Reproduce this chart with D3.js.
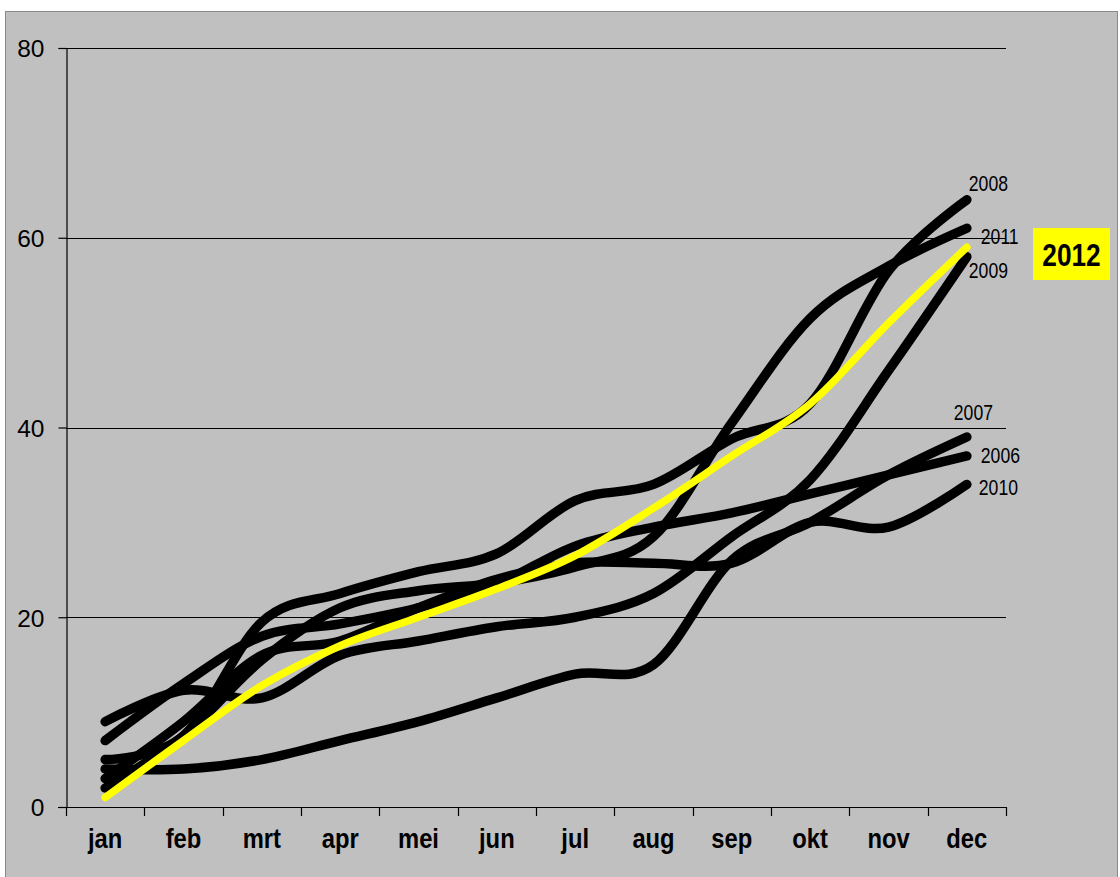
<!DOCTYPE html>
<html><head><meta charset="utf-8">
<script src="https://cdn.jsdelivr.net/npm/d3@7"></script>
<style>body{margin:0;background:#fff}</style>
</head><body>
<svg id="chart" width="1120" height="877"></svg>
<script>
// ---- data ----
const months = ["jan","feb","mrt","apr","mei","jun","jul","aug","sep","okt","nov","dec"];
const yTicks = [0, 20, 40, 60, 80];
const v2006 = [7, 13, 18, 19.3, 21, 23.5, 27.5, 29.5, 31, 33, 35, 37];
const v2007 = [4, 4, 5, 7, 9, 11.5, 14, 15, 26, 30, 35, 39];
const v2008 = [5, 7.5, 19.5, 22.5, 24.8, 26.7, 32.3, 34, 38.8, 42.5, 56.5, 64];
const v2009 = [9, 12.3, 11.5, 16, 17.5, 19, 20, 22.5, 28.5, 34.5, 46, 58];
const v2010 = [3, 9, 16, 17.5, 21, 24, 25.7, 25.7, 25.7, 30, 29.5, 34];
const v2011 = [2, 7.5, 15.5, 21, 22.8, 23.6, 25.3, 28.5, 40.5, 51.5, 57, 61];
const v2012 = [1, 7, 12.8, 17, 20, 23, 26.5, 31.5, 37, 42.5, 51, 59];
const years = ["2006","2007","2008","2009","2010","2011"];
const highlightYear = "2012";

const blackSeries = [v2006, v2007, v2008, v2009, v2010, v2011];

// label offsets from each series' last point (layout, not data)
const labelOffset = {
  "2006": [14, 7], "2007": [-13, -17], "2008": [2, -9],
  "2009": [2, 21], "2010": [12, 11], "2011": [14, 16]
};

// ---- layout ----
const svg = d3.select("#chart");
const mLeft = 66, mRight = 1006, mTop = 48, mBottom = 807;

svg.append("rect").attr("x", 5.5).attr("y", 11.5).attr("width", 1112).attr("height", 866)
  .attr("fill", "#c0c0c0").attr("stroke", "#8a8a8a").attr("stroke-width", 1);

const x = d3.scaleBand().domain(months).range([mLeft, mRight]).paddingInner(0).paddingOuter(0);
const y = d3.scaleLinear().domain([0, 80]).range([mBottom, mTop]);
const cx = m => x(m) + x.bandwidth() / 2;

// gridlines
svg.append("g").selectAll("line").data(yTicks.filter(t => t > 0)).join("line")
  .attr("x1", mLeft).attr("x2", mRight)
  .attr("y1", d => Math.round(y(d)) + 0.5).attr("y2", d => Math.round(y(d)) + 0.5)
  .attr("stroke", "#000").attr("stroke-width", 1.2);

// y axis
const yAxis = d3.axisLeft(y).tickValues(yTicks).tickSize(8).tickPadding(14);
const gy = svg.append("g").attr("transform", `translate(${mLeft + 0.5},0)`).call(yAxis);
gy.select(".domain").attr("stroke", "#000").attr("stroke-width", 1.2);
gy.selectAll(".tick line").attr("stroke", "#000").attr("stroke-width", 1.2);
gy.selectAll(".tick text").attr("font-family", "Liberation Sans, Arial, sans-serif")
  .attr("font-size", 24.5).attr("fill", "#000").attr("dy", "0.36em");

// x axis
const xAxis = d3.axisBottom(x).tickSize(0).tickPadding(41);
const gx = svg.append("g").attr("transform", `translate(0,${Math.round(mBottom) + 0.5})`).call(xAxis);
gx.select(".domain").attr("stroke", "#000").attr("stroke-width", 1.2)
  .attr("d", `M${mLeft - 8},0H${mRight}`);
gx.selectAll(".tick text").attr("font-family", "Liberation Sans, Arial, sans-serif")
  .attr("font-weight", "bold").attr("font-size", 27).attr("fill", "#000")
  .attr("dy", "0").attr("transform", "scale(0.88,1)");
// boundary ticks
const bounds = months.map(m => x(m)).concat([mRight]);
svg.append("g").selectAll("line").data(bounds).join("line")
  .attr("x1", d => Math.round(d) + 0.5).attr("x2", d => Math.round(d) + 0.5)
  .attr("y1", mBottom).attr("y2", mBottom + 9)
  .attr("stroke", "#000").attr("stroke-width", 1.2);

// lines
const line = d3.line().x((d, i) => cx(months[i])).y(d => y(d)).curve(d3.curveCardinal.tension(0));

svg.append("g").selectAll("path").data(blackSeries).join("path")
  .attr("d", d => line(d)).attr("fill", "none").attr("stroke", "#000")
  .attr("stroke-width", 9.5).attr("stroke-linecap", "round").attr("stroke-linejoin", "round");

svg.append("path").attr("d", line(v2012)).attr("fill", "none").attr("stroke", "#ffff00")
  .attr("stroke-width", 7.5).attr("stroke-linecap", "round");

// year labels
const lastX = cx(months[months.length - 1]);
years.forEach((yr, i) => {
  const vals = blackSeries[i];
  const [dx, dy] = labelOffset[yr];
  svg.append("text")
    .attr("transform", `translate(${lastX + dx},${y(vals[vals.length - 1]) + dy}) scale(0.8,1)`)
    .attr("font-family", "Liberation Sans, Arial, sans-serif").attr("font-size", 22)
    .attr("fill", "#000").text(yr);
});

// highlighted year box
const hb = svg.append("g").attr("transform", `translate(1033,228)`);
hb.append("rect").attr("width", 77).attr("height", 52).attr("fill", "#ffff00");
hb.append("text").attr("transform", "translate(38.5,38) scale(0.82,1)")
  .attr("text-anchor", "middle").attr("font-family", "Liberation Sans, Arial, sans-serif")
  .attr("font-weight", "bold").attr("font-size", 32).attr("fill", "#000").text(highlightYear);
</script>
</body></html>
